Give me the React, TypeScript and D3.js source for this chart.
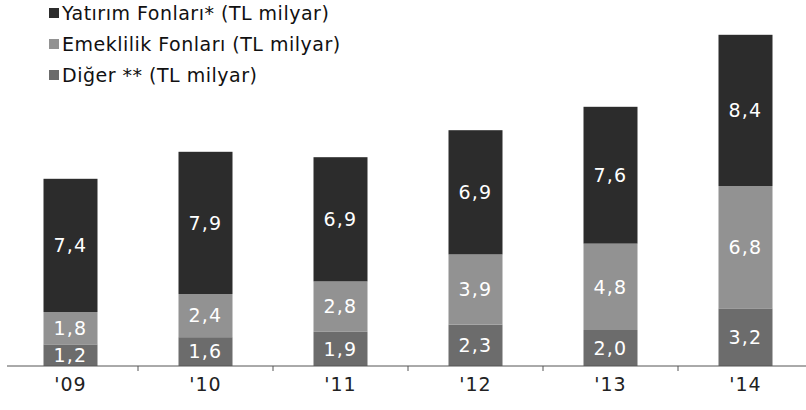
import React from "react";
import * as d3 from "d3";

const years = ["'09", "'10", "'11", "'12", "'13", "'14"];
const diger = [1.2, 1.6, 1.9, 2.3, 2.0, 3.2];
const emeklilik = [1.8, 2.4, 2.8, 3.9, 4.8, 6.8];
const yatirim = [7.4, 7.9, 6.9, 6.9, 7.6, 8.4];

const seriesNames = [
  "Yatırım Fonları* (TL milyar)",
  "Emeklilik Fonları (TL milyar)",
  "Diğer ** (TL milyar)",
];
const seriesColors = ["#2c2c2c", "#929292", "#6c6c6c"];

const W = 806;
const H = 410;
const baseY = 366;

export default function App() {
  const x = d3
    .scaleBand<string>()
    .domain(years)
    .range([3, 813])
    .paddingInner(0.6)
    .paddingOuter(0.3);
  const y = d3.scaleLinear().domain([0, 20]).range([baseY, baseY - 360]);

  const rows = years.map((yr, i) => ({
    year: yr,
    diger: diger[i],
    emeklilik: emeklilik[i],
    yatirim: yatirim[i],
  }));
  const keys = ["diger", "emeklilik", "yatirim"];
  const keyColor: Record<string, string> = {
    yatirim: seriesColors[0],
    emeklilik: seriesColors[1],
    diger: seriesColors[2],
  };
  const stacked = d3.stack<any>().keys(keys)(rows);
  const fmt = (v: number) => v.toFixed(1).replace(".", ",");
  const step = x.step();
  const tickXs = years.slice(1).map((yr) => (x(yr) as number) - (step * 0.6) / 2);

  const font = "'DejaVu Sans', Verdana, sans-serif";

  return (
    <svg
      width={W}
      height={H}
      style={{ position: "absolute", left: 0, top: 0, background: "#fff" }}
      fontFamily={font}
    >
      {/* legend */}
      {seriesNames.map((name, i) => (
        <g key={name} transform={`translate(0, ${13 + i * 31})`}>
          <rect x={49} y={-5} width={10} height={10} fill={seriesColors[i]} />
          <text x={62} y={0} dy="0.36em" fontSize={19} letterSpacing={0.5} fill="#111">
            {name}
          </text>
        </g>
      ))}

      {/* bars */}
      {stacked.map((layer) => (
        <g key={layer.key} fill={keyColor[layer.key]}>
          {layer.map((d, i) => (
            <rect
              key={i}
              x={x(years[i])}
              y={y(d[1])}
              width={x.bandwidth()}
              height={y(d[0]) - y(d[1])}
            />
          ))}
        </g>
      ))}

      {/* value labels */}
      {stacked.map((layer) => (
        <g key={"l" + layer.key}>
          {layer.map((d, i) => (
            <text
              key={i}
              x={(x(years[i]) as number) + x.bandwidth() / 2}
              y={(y(d[0]) + y(d[1])) / 2}
              dy="0.36em"
              textAnchor="middle"
              fontSize={19}
              letterSpacing={1.2}
              fill="#fff"
            >
              {fmt(d[1] - d[0])}
            </text>
          ))}
        </g>
      ))}

      {/* axis */}
      <line x1={7} x2={806} y1={baseY} y2={baseY} stroke="#555" strokeWidth={1} />
      {tickXs.map((tx, i) => (
        <line key={i} x1={tx} x2={tx} y1={baseY} y2={baseY + 5} stroke="#555" />
      ))}
      {years.map((yr) => (
        <text
          key={yr}
          x={(x(yr) as number) + x.bandwidth() / 2}
          y={384}
          dy="0.36em"
          textAnchor="middle"
          fontSize={19}
          letterSpacing={1}
          fill="#222"
        >
          {yr}
        </text>
      ))}
    </svg>
  );
}
